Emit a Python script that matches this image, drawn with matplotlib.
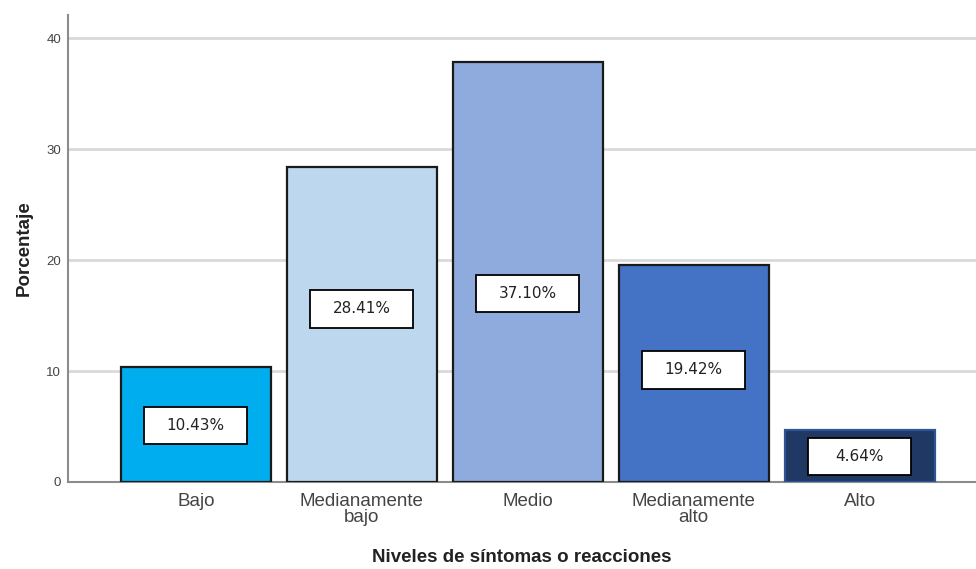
import matplotlib.pyplot as plt
from matplotlib.patches import Rectangle

# categorias y valores
niveles = ['Bajo', 'Medianamente\nbajo', 'Medio', 'Medianamente\nalto', 'Alto']
alturas = [10.4, 28.4, 37.9, 19.6, 4.7]
etiquetas = ['10.43%', '28.41%', '37.10%', '19.42%', '4.64%']
colores = ['#00AEEF', '#BDD7EE', '#8FAADC', '#4472C4', '#203864']
bordes = ['#1a1a1a', '#1a1a1a', '#1a1a1a', '#1a1a1a', '#2F5597']
# posicion vertical de las cajas de etiqueta
pos_etiqueta = [5.1, 15.6, 17.0, 10.1, 2.3]

plt.rcParams['font.family'] = ['Liberation Sans', 'DejaVu Sans']

fig = plt.figure(figsize=(9.76, 5.69), dpi=100)
ax = fig.add_axes([68/976, 87/569, 1 - 68/976, (482-15)/569])

x = list(range(len(niveles)))
ax.bar(x, alturas, width=0.9, color=colores, edgecolor=bordes, linewidth=1.6, zorder=3)

for i in x:
    w, h = 0.62, 3.4
    ax.add_patch(Rectangle((i - w/2, pos_etiqueta[i] - h/2), w, h, facecolor='white',
                           edgecolor='black', linewidth=1.3, zorder=4))
    ax.text(i, pos_etiqueta[i], etiquetas[i], ha='center', va='center', fontsize=11,
            family='DejaVu Sans', color='#222222', zorder=5)

ax.set_xlim(-0.77, 4.70)
ax.set_ylim(0, 42.1)
ax.set_yticks([0, 10, 20, 30, 40])
ax.set_xticks(x)
ax.set_xticklabels(niveles, fontsize=13.5, color='#444444', linespacing=0.95)
ax.tick_params(axis='y', labelsize=9.5, colors='#444444', length=0, pad=5)
ax.tick_params(axis='x', length=0, pad=8)

ax.yaxis.grid(True, color='#D9D9D9', linewidth=2, zorder=0)
ax.set_axisbelow(True)
for s in ['top', 'right']:
    ax.spines[s].set_visible(False)
ax.spines['left'].set_color('#8c8c8c')
ax.spines['left'].set_linewidth(1.5)
ax.spines['bottom'].set_color('#8c8c8c')
ax.spines['bottom'].set_linewidth(1.5)

ax.set_ylabel('Porcentaje', fontsize=13.5, fontweight='bold', color='#222222', labelpad=10)
ax.set_xlabel('Niveles de síntomas o reacciones', fontsize=13.5, fontweight='bold',
              color='#222222', labelpad=16)

fig.savefig('out.png', dpi=100)
